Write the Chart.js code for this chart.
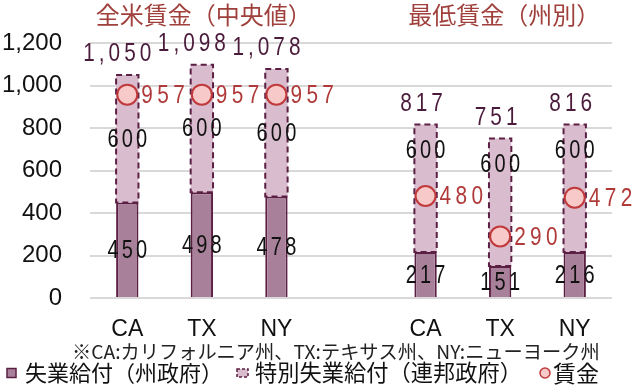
<!DOCTYPE html>
<html>
<head>
<meta charset="utf-8">
<script src="https://cdn.jsdelivr.net/npm/chart.js@4.4.1/dist/chart.umd.min.js"></script>
<style>
html,body{margin:0;padding:0;background:#fff;}
#wrap{width:640px;height:386px;position:relative;}
</style>
</head>
<body>
<div id="wrap"><canvas id="c" width="640" height="386"></canvas></div>
<script>
// ---- data ----
const categories = ['CA', 'TX', 'NY', '', 'CA', 'TX', 'NY'];
const groupTitles = ['全米賃金（中央値）', '最低賃金（州別）'];
const stateBenefit = [450, 498, 478, null, 217, 151, 216];
const federalBenefit = [600, 600, 600, null, 600, 600, 600];
const wage = [957, 957, 957, null, 480, 290, 472];
const yTicks = [0, 200, 400, 600, 800, 1000, 1200];
const legendLabels = ['失業給付（州政府）', '特別失業給付（連邦政府）', '賃金'];
const footnote = '※CA:カリフォルニア州、TX:テキサス州、NY:ニューヨーク州';

const NUM_FONT = '"Liberation Sans", Arial, sans-serif';
const JP_FONT = '"Noto Sans CJK JP", "Noto Sans", sans-serif';
const C_STATE = '#a8809a';
const C_FED = '#d9bccd';
const C_BORDER = '#5c1f44';
const C_WAGE_FILL = '#f8c9c9';
const C_WAGE_LINE = '#c0393b';
const C_RED_TEXT = '#b03a3a';
const C_TITLE = '#a0403c';
const C_TOTAL = '#4b1b3b';
const NARROW = 0.8;

function fmt(v){ return v.toLocaleString('en-US'); }

// draw horizontally-condensed text with letter spacing
function narrowText(ctx, t, x, y, size, spacing, align) {
  ctx.save();
  ctx.font = size + 'px ' + NUM_FONT;
  ctx.letterSpacing = spacing + 'px';
  ctx.textBaseline = 'middle';
  ctx.textAlign = 'left';
  const w = ctx.measureText(t).width - spacing; // drop trailing spacing
  ctx.translate(x, y);
  ctx.scale(NARROW, 1);
  let x0 = 0;
  if (align === 'center') x0 = -w / 2;
  ctx.fillText(t, x0, 0);
  ctx.restore();
}

const labelPlugin = {
  id: 'labels',
  afterDatasetDraw(chart, args) {
    if (args.index !== 1) return;
    const ctx = chart.ctx;
    const meta = chart.getDatasetMeta(1);
    ctx.save();
    ctx.strokeStyle = C_BORDER;
    ctx.lineWidth = 2;
    ctx.setLineDash([6, 4]);
    meta.data.forEach((bar, i) => {
      if (federalBenefit[i] == null) return;
      const p = bar.getProps(['x', 'y', 'base', 'width'], true);
      const l = p.x - p.width / 2, r = p.x + p.width / 2;
      ctx.strokeRect(l, p.y, r - l, p.base - p.y);
    });
    ctx.restore();
  },
  afterDraw(chart) {
    const ctx = chart.ctx;
    const xs = chart.scales.x, ys = chart.scales.y;
    ctx.save();
    // group titles
    ctx.fillStyle = C_TITLE;
    ctx.font = '24px ' + JP_FONT;
    ctx.textAlign = 'center';
    ctx.textBaseline = 'middle';
    ctx.fillText(groupTitles[0], xs.getPixelForValue(1) + 2, 15);
    ctx.fillText(groupTitles[1], xs.getPixelForValue(5) + 4, 15);

    const wgMeta = chart.getDatasetMeta(2);
    categories.forEach((c, i) => {
      if (stateBenefit[i] == null) return;
      const group = i < 3 ? 0 : 1;
      const x = xs.getPixelForValue(i);
      const total = stateBenefit[i] + federalBenefit[i];
      const yTop = ys.getPixelForValue(total);
      // totals
      ctx.fillStyle = C_TOTAL;
      const tx = x - (total >= 1000 ? 10 : 4);
      narrowText(ctx, fmt(total), tx, yTop - 21, 26, 5, 'center');
      // state label
      ctx.fillStyle = '#111';
      const yS = ys.getPixelForValue(stateBenefit[i] / 2);
      narrowText(ctx, String(stateBenefit[i]), x, yS + 1, 25, 4, 'center');
      // federal label (second group: placed near top to clear the marker)
      const frac = group === 0 ? 0.5 : 0.8;
      const yF = ys.getPixelForValue(stateBenefit[i] + federalBenefit[i] * frac);
      narrowText(ctx, String(federalBenefit[i]), x, yF + 1, 25, 4, 'center');
      // wage label
      const pt = wgMeta.data[i];
      ctx.fillStyle = C_RED_TEXT;
      narrowText(ctx, String(wage[i]), pt.x + 14, pt.y + 1, 26, 5.5, 'left');
    });

    // footnote
    ctx.fillStyle = '#222';
    ctx.textAlign = 'left';
    ctx.textBaseline = 'middle';
    let fs = 19;
    ctx.font = fs + 'px ' + JP_FONT;
    let w = ctx.measureText(footnote).width;
    fs = fs * 528 / w;
    ctx.font = fs.toFixed(2) + 'px ' + JP_FONT;
    ctx.fillText(footnote, 72, 352);

    // legend
    const ly = 373;
    ctx.fillStyle = C_STATE;
    ctx.fillRect(7, ly - 4.5, 9, 9);
    ctx.strokeStyle = C_BORDER; ctx.lineWidth = 1.5;
    ctx.strokeRect(7, ly - 4.5, 9, 9);

    ctx.fillStyle = C_FED;
    ctx.fillRect(237, ly - 4, 11, 8);
    ctx.strokeStyle = C_BORDER; ctx.lineWidth = 1.5;
    ctx.setLineDash([3, 2]);
    ctx.strokeRect(237, ly - 4, 11, 8);
    ctx.setLineDash([]);

    ctx.beginPath();
    ctx.arc(545, ly, 5, 0, Math.PI * 2);
    ctx.fillStyle = C_WAGE_FILL; ctx.fill();
    ctx.strokeStyle = C_WAGE_LINE; ctx.lineWidth = 1.5; ctx.stroke();

    ctx.fillStyle = '#111';
    const fitText = (t, x, targetW) => {
      ctx.font = '22px ' + JP_FONT;
      const mw = ctx.measureText(t).width;
      const s = Math.min(23, 22 * targetW / mw);
      ctx.font = s.toFixed(2) + 'px ' + JP_FONT;
      ctx.fillText(t, x, ly);
    };
    fitText(legendLabels[0], 25, 198);
    fitText(legendLabels[1], 255, 267);
    fitText(legendLabels[2], 553, 52);
    ctx.restore();
  }
};

new Chart(document.getElementById('c'), {
  data: {
    labels: categories,
    datasets: [
      {
        type: 'bar', label: legendLabels[0], data: stateBenefit, stack: 'bars',
        backgroundColor: C_STATE, borderColor: C_BORDER, borderWidth: 2,
        borderSkipped: 'bottom', order: 2,
        categoryPercentage: 1, barPercentage: 0.3
      },
      {
        type: 'bar', label: legendLabels[1], data: federalBenefit, stack: 'bars',
        backgroundColor: C_FED, borderWidth: 0, order: 2,
        categoryPercentage: 1, barPercentage: 0.3
      },
      {
        type: 'line', label: legendLabels[2], data: wage, stack: 'wage',
        showLine: false, pointRadius: 10, pointHoverRadius: 10,
        pointBackgroundColor: C_WAGE_FILL, pointBorderColor: C_WAGE_LINE,
        pointBorderWidth: 2, order: 1
      }
    ]
  },
  options: {
    responsive: false,
    animation: false,
    devicePixelRatio: 1,
    layout: { padding: { top: 43, right: 28, left: 0, bottom: 0 } },
    plugins: { legend: { display: false }, tooltip: { enabled: false }, title: { display: false } },
    scales: {
      x: {
        stacked: true,
        grid: { display: false, drawTicks: false },
        border: { display: false },
        ticks: { color: '#111', font: { family: NUM_FONT, size: 23 }, padding: 18, maxRotation: 0, autoSkip: false },
        afterFit(s) { s.height = 88; }
      },
      y: {
        stacked: true,
        min: 0, max: 1200,
        afterBuildTicks(s) { s.ticks = yTicks.map(v => ({ value: v })); },
        grid: { color: '#d9d9d9', lineWidth: 2, drawTicks: false },
        border: { display: false },
        ticks: { color: '#111', font: { family: NUM_FONT, size: 24 }, padding: 28,
                 callback: v => fmt(v) },
        afterFit(s) { s.width = 90; }
      }
    }
  },
  plugins: [labelPlugin]
});
</script>
</body>
</html>
